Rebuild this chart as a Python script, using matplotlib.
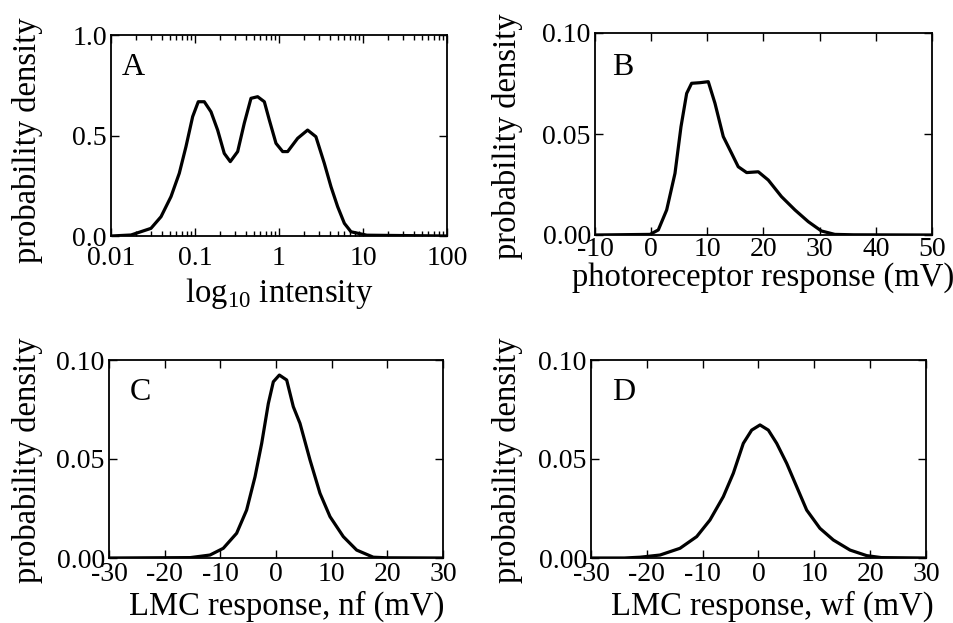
import numpy as np
import matplotlib
matplotlib.use("Agg")
import matplotlib.pyplot as plt
from matplotlib.ticker import FixedLocator, LogLocator, NullFormatter

plt.rcParams['font.family'] = ['Liberation Serif', 'DejaVu Serif']
plt.rcParams['mathtext.fontset'] = 'custom'
plt.rcParams['mathtext.rm'] = 'Liberation Serif'

# Panel A: intensity distribution (log axis)
a_x = [0.01, 0.0173, 0.0299, 0.0394, 0.0518, 0.065, 0.078, 0.0938, 0.1094, 0.129,
       0.155, 0.186, 0.223, 0.263, 0.322, 0.386, 0.464, 0.557, 0.669, 0.767,
       0.921, 1.106, 1.268, 1.667, 2.19, 2.75, 3.46, 4.16, 4.99, 6.0, 7.2,
       11.1, 100]
a_y = [0.0, 0.005, 0.038, 0.096, 0.196, 0.312, 0.444, 0.594, 0.668, 0.668,
       0.618, 0.527, 0.411, 0.37, 0.42, 0.561, 0.685, 0.693, 0.668, 0.577,
       0.461, 0.42, 0.42, 0.486, 0.527, 0.494, 0.362, 0.245, 0.146, 0.063, 0.021,
       0.004, 0.0]

# Panel B: photoreceptor response
b_x = [-10, -0.2, 1.27, 2.76, 4.24, 5.31, 6.32, 7.2, 8.69, 10.17, 11.36, 12.84,
       14.33, 15.5, 17.0, 19.07, 20.85, 23.2, 25.6, 27.97, 30.3, 32.7, 36.0, 50]
b_y = [0.0, 0.0003, 0.0025, 0.0124, 0.0305, 0.0536, 0.0701, 0.0751, 0.0754,
       0.0759, 0.0652, 0.0487, 0.0404, 0.0338, 0.0309, 0.0313, 0.0272, 0.019,
       0.0124, 0.0066, 0.002, 0.0003, 0.0001, 0.0]

# Panel C: LMC response, nf
c_x = [-30, -15.4, -11.86, -9.47, -7.07, -5.28, -3.77, -2.57, -1.38, -0.48, 0.6,
       1.92, 3.11, 4.31, 6.11, 7.9, 9.7, 12.09, 14.49, 17.48, 20.0, 30]
c_y = [0.0, 0.0002, 0.0015, 0.0049, 0.0125, 0.0242, 0.041, 0.0579, 0.078, 0.089,
       0.0924, 0.0899, 0.0764, 0.068, 0.0495, 0.0327, 0.0209, 0.0108, 0.004,
       0.0004, 0.0001, 0.0]

# Panel D: LMC response, wf
d_x = [-30, -24.0, -21.2, -17.64, -14.06, -11.07, -8.69, -6.3, -4.51, -2.72, -1.22,
       0.27, 1.76, 3.26, 5.05, 6.84, 8.63, 11.0, 13.4, 16.4, 19.38, 22.0, 30]
d_y = [0.0, 0.0, 0.0004, 0.0015, 0.0049, 0.0108, 0.0192, 0.031, 0.0428, 0.0579,
       0.0646, 0.0672, 0.0646, 0.0579, 0.0478, 0.036, 0.0242, 0.015, 0.0091,
       0.004, 0.0012, 0.0002, 0.0]

a_xticks = [0.01, 0.1, 1, 10, 100]
a_xticklabels = ["0.01", "0.1", "1", "10", "100"]
a_yticks = [0.0, 0.5, 1.0]
a_yticklabels = ["0.0", "0.5", "1.0"]
b_xticks = [-10, 0, 10, 20, 30, 40, 50]
cd_xticks = [-30, -20, -10, 0, 10, 20, 30]
bcd_yticks = [0.0, 0.05, 0.10]
bcd_yticklabels = ["0.00", "0.05", "0.10"]

W, H = 954, 623
fig = plt.figure(figsize=(W / 100, H / 100), dpi=100)

def add_ax(l, t, r, b):
    return fig.add_axes([l / W, 1 - b / H, (r - l) / W, (b - t) / H])

TFS = 20     # tick labels
LFS = 23.5   # axis labels
PFS = 23     # panel letters
LW = 2.3

def style(ax, xpad):
    for s in ax.spines.values():
        s.set_linewidth(1.3)
    ax.tick_params(which='both', direction='in', top=True, right=True,
                   labelsize=TFS, width=1.0)
    ax.tick_params(which='major', length=6)
    ax.tick_params(axis='x', pad=xpad)
    ax.tick_params(axis='y', pad=3)

axA = add_ax(111, 35, 447, 236)
axB = add_ax(595, 33, 932, 235)
axC = add_ax(109, 360, 443, 558)
axD = add_ax(591, 360, 926, 558)

# A
axA.plot(a_x, a_y, color='black', lw=LW)
axA.set_xscale('log')
axA.set_xlim(0.01, 100)
axA.set_ylim(0, 1.0)
axA.xaxis.set_major_locator(FixedLocator(a_xticks))
axA.set_xticklabels(a_xticklabels)
axA.xaxis.set_minor_locator(LogLocator(base=10, subs=np.arange(2, 10)))
axA.xaxis.set_minor_formatter(NullFormatter())
axA.set_yticks(a_yticks)
axA.set_yticklabels(a_yticklabels)
style(axA, 7.5)
axA.tick_params(which='minor', length=3.5)
axA.set_ylabel("probability density", fontsize=LFS)
axA.set_xlabel(r"log$_{10}$ intensity", fontsize=LFS)
axA.text(0.033, 0.836, "A", transform=axA.transAxes, fontsize=PFS, va='center', ha='left')

# B
axB.plot(b_x, b_y, color='black', lw=LW)
axB.set_xlim(-10, 50)
axB.set_ylim(0, 0.10)
axB.set_xticks(b_xticks)
axB.set_xticklabels([str(v) for v in b_xticks])
axB.set_yticks(bcd_yticks)
axB.set_yticklabels(bcd_yticklabels)
style(axB, 1.5)
axB.set_ylabel("probability density", fontsize=LFS)
axB.set_xlabel("photoreceptor response (mV)", fontsize=LFS)
axB.text(0.05, 0.83, "B", transform=axB.transAxes, fontsize=PFS, va='center', ha='left')

# C
axC.plot(c_x, c_y, color='black', lw=LW)
axC.set_xlim(-30, 30)
axC.set_ylim(0, 0.10)
axC.set_xticks(cd_xticks)
axC.set_xticklabels([str(v) for v in cd_xticks])
axC.set_yticks(bcd_yticks)
axC.set_yticklabels(bcd_yticklabels)
style(axC, 3)
axC.set_ylabel("probability density", fontsize=LFS)
axC.set_xlabel("LMC response, nf (mV)", fontsize=LFS)
axC.text(0.063, 0.838, "C", transform=axC.transAxes, fontsize=PFS, va='center', ha='left')

# D
axD.plot(d_x, d_y, color='black', lw=LW)
axD.set_xlim(-30, 30)
axD.set_ylim(0, 0.10)
axD.set_xticks(cd_xticks)
axD.set_xticklabels([str(v) for v in cd_xticks])
axD.set_yticks(bcd_yticks)
axD.set_yticklabels(bcd_yticklabels)
style(axD, 3)
axD.set_ylabel("probability density", fontsize=LFS)
axD.set_xlabel("LMC response, wf (mV)", fontsize=LFS)
axD.text(0.063, 0.838, "D", transform=axD.transAxes, fontsize=PFS, va='center', ha='left')

# label placement
axA.yaxis.set_label_coords(-0.202, 0.478)
axB.yaxis.set_label_coords(-0.214, 0.49)
axC.yaxis.set_label_coords(-0.198, 0.495)
axD.yaxis.set_label_coords(-0.203, 0.495)
axA.xaxis.set_label_coords(0.5, -0.2)
axB.xaxis.set_label_coords(0.5, -0.134)
axC.xaxis.set_label_coords(0.533, -0.167)
axD.xaxis.set_label_coords(0.54, -0.167)

fig.savefig("out.png", dpi=100)
